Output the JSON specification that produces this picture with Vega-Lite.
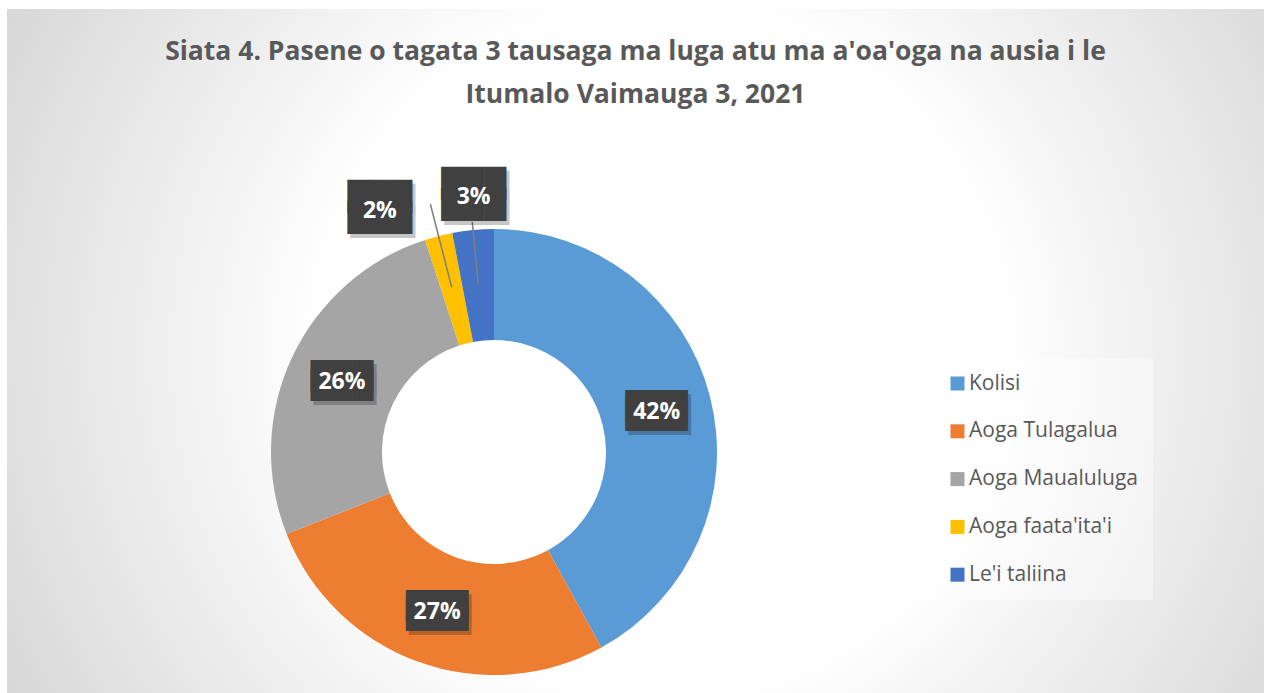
{
  "$schema": "https://vega.github.io/schema/vega-lite/v6.json",
  "width": 1257,
  "height": 684,
  "autosize": {"type": "none"},
  "padding": {"left": 7, "top": 9, "right": 0, "bottom": 0},
  "background": "#ffffff",
  "config": {"view": {"stroke": null}},
  "title": {
    "text": ["Siata 4. Pasene o tagata 3 tausaga ma luga atu ma a'oa'oga na ausia i le", "Itumalo Vaimauga 3, 2021"],
    "font": "Open Sans",
    "fontSize": 26.5,
    "fontWeight": "bold",
    "color": "#595959",
    "anchor": "middle",
    "baseline": "top",
    "lineHeight": 43,
    "offset": 0,
    "dy": 99
  },
  "data": {
    "values": [
      {"cat": "Kolisi", "value": 42, "order": 1},
      {"cat": "Aoga Tulagalua", "value": 27, "order": 2},
      {"cat": "Aoga Maualuluga", "value": 26, "order": 3},
      {"cat": "Aoga faata'ita'i", "value": 2, "order": 4},
      {"cat": "Le'i taliina", "value": 3, "order": 5}
    ]
  },
  "transform": [{"calculate": "datum.value + '%'", "as": "label"}],
  "layer": [
    {
      "data": {"values": [{"bg": 1}]},
      "mark": {
        "type": "rect",
        "color": {
          "gradient": "radial",
          "x1": 0.52, "y1": 0.5, "r1": 0,
          "x2": 0.52, "y2": 0.5, "r2": 0.75,
          "stops": [
            {"offset": 0, "color": "#ffffff"},
            {"offset": 0.36, "color": "#ffffff"},
            {"offset": 1, "color": "#c3c3c3"}
          ]
        }
      },
      "encoding": {}
    },
    {
      "mark": {"type": "arc", "outerRadius": 223, "innerRadius": 112, "x": 487, "y": 443},
      "encoding": {
        "theta": {"field": "value", "type": "quantitative", "stack": true},
        "order": {"field": "order", "type": "quantitative"},
        "color": {
          "field": "cat", "type": "nominal",
          "scale": {
            "domain": ["Kolisi", "Aoga Tulagalua", "Aoga Maualuluga", "Aoga faata'ita'i", "Le'i taliina"],
            "range": ["#5b9bd5", "#ed7d31", "#a5a5a5", "#ffc000", "#4472c4"]
          },
          "legend": {
            "title": null,
            "orient": "none",
            "legendX": 913,
            "legendY": 349,
            "fillColor": "rgba(255,255,255,0.4)",
            "padding": 15,
            "symbolOffset": 12,
            "symbolType": "square",
            "symbolSize": 196,
            "symbolStrokeWidth": 0,
            "labelFont": "Open Sans",
            "labelFontSize": 21,
            "labelColor": "#595959",
            "labelOffset": 1,
            "rowPadding": 25.8,
            "labelLimit": 400
          }
        }
      }
    },
    {
      "mark": {"type": "arc", "outerRadius": 256, "innerRadius": 170, "x": 487, "y": 443, "padAngle": 1.2, "fillOpacity": 0, "stroke": "#7f7f7f", "strokeWidth": 1.5},
      "encoding": {
        "theta": {"field": "value", "type": "quantitative", "stack": true},
        "order": {"field": "order", "type": "quantitative"},
        "detail": {"field": "cat"},
        "strokeOpacity": {"condition": {"test": "datum.order == 4", "value": 1}, "value": 0}
      }
    },
    {
      "mark": {"type": "arc", "outerRadius": 231, "innerRadius": 168, "x": 487, "y": 443, "padAngle": 1.2, "fillOpacity": 0, "stroke": "#7f7f7f", "strokeWidth": 1.5},
      "encoding": {
        "theta": {"field": "value", "type": "quantitative", "stack": true},
        "order": {"field": "order", "type": "quantitative"},
        "detail": {"field": "cat"},
        "strokeOpacity": {"condition": {"test": "datum.order == 5", "value": 1}, "value": 0}
      }
    },
    {
      "mark": {"type": "text", "text": ["███", "███"], "lineHeight": 9, "font": "DejaVu Sans", "fontSize": 27, "baseline": "middle", "align": "center", "color": "#000000", "x": 487, "y": 443, "dx": 3, "dy": 1},
      "encoding": {
        "theta": {"field": "value", "type": "quantitative", "stack": true},
        "order": {"field": "order", "type": "quantitative"},
        "detail": {"field": "cat"},
        "radius": {"value": 168},
        "opacity": {"condition": {"test": "datum.value >= 5", "value": 0.22}, "value": 0}
      }
    },
    {
      "mark": {"type": "text", "text": ["███", "███"], "lineHeight": 9, "font": "DejaVu Sans", "fontSize": 27, "baseline": "middle", "align": "center", "color": "#404040", "x": 487, "y": 443, "dy": -3},
      "encoding": {
        "theta": {"field": "value", "type": "quantitative", "stack": true},
        "order": {"field": "order", "type": "quantitative"},
        "detail": {"field": "cat"},
        "radius": {"value": 168},
        "opacity": {"condition": {"test": "datum.value >= 5", "value": 1}, "value": 0}
      }
    },
    {
      "mark": {"type": "text", "font": "Open Sans", "fontSize": 23, "fontWeight": "bold", "baseline": "middle", "align": "center", "color": "#ffffff", "x": 487, "y": 443, "dy": 2},
      "encoding": {
        "theta": {"field": "value", "type": "quantitative", "stack": true},
        "order": {"field": "order", "type": "quantitative"},
        "detail": {"field": "cat"},
        "radius": {"value": 168},
        "text": {"field": "label"},
        "opacity": {"condition": {"test": "datum.value >= 5", "value": 1}, "value": 0}
      }
    },
    {
      "mark": {"type": "text", "text": ["███", "███"], "lineHeight": 21, "font": "DejaVu Sans", "fontSize": 28, "baseline": "middle", "align": "center", "color": "#000000", "x": 487, "y": 443, "dx": -46, "dy": 4},
      "encoding": {
        "theta": {"field": "value", "type": "quantitative", "stack": true},
        "order": {"field": "order", "type": "quantitative"},
        "detail": {"field": "cat"},
        "radius": {"value": 262},
        "opacity": {"condition": {"test": "datum.order == 4", "value": 0.22}, "value": 0}
      }
    },
    {
      "mark": {"type": "text", "text": ["███", "███"], "lineHeight": 21, "font": "DejaVu Sans", "fontSize": 28, "baseline": "middle", "align": "center", "color": "#404040", "x": 487, "y": 443, "dx": -49, "dy": 0},
      "encoding": {
        "theta": {"field": "value", "type": "quantitative", "stack": true},
        "order": {"field": "order", "type": "quantitative"},
        "detail": {"field": "cat"},
        "radius": {"value": 262},
        "opacity": {"condition": {"test": "datum.order == 4", "value": 1}, "value": 0}
      }
    },
    {
      "mark": {"type": "text", "font": "Open Sans", "fontSize": 23, "fontWeight": "bold", "baseline": "middle", "align": "center", "color": "#ffffff", "x": 487, "y": 443, "dx": -49, "dy": 13},
      "encoding": {
        "theta": {"field": "value", "type": "quantitative", "stack": true},
        "order": {"field": "order", "type": "quantitative"},
        "detail": {"field": "cat"},
        "radius": {"value": 262},
        "text": {"field": "label"},
        "opacity": {"condition": {"test": "datum.order == 4", "value": 1}, "value": 0}
      }
    },
    {
      "mark": {"type": "text", "text": ["███", "███"], "lineHeight": 21, "font": "DejaVu Sans", "fontSize": 28, "baseline": "middle", "align": "center", "color": "#000000", "x": 487, "y": 443, "dx": 7, "dy": -5},
      "encoding": {
        "theta": {"field": "value", "type": "quantitative", "stack": true},
        "order": {"field": "order", "type": "quantitative"},
        "detail": {"field": "cat"},
        "radius": {"value": 259},
        "opacity": {"condition": {"test": "datum.order == 5", "value": 0.22}, "value": 0}
      }
    },
    {
      "mark": {"type": "text", "text": ["███", "███"], "lineHeight": 21, "font": "DejaVu Sans", "fontSize": 28, "baseline": "middle", "align": "center", "color": "#404040", "x": 487, "y": 443, "dx": 4, "dy": -9},
      "encoding": {
        "theta": {"field": "value", "type": "quantitative", "stack": true},
        "order": {"field": "order", "type": "quantitative"},
        "detail": {"field": "cat"},
        "radius": {"value": 259},
        "opacity": {"condition": {"test": "datum.order == 5", "value": 1}, "value": 0}
      }
    },
    {
      "mark": {"type": "text", "font": "Open Sans", "fontSize": 23, "fontWeight": "bold", "baseline": "middle", "align": "center", "color": "#ffffff", "x": 487, "y": 443, "dx": 4, "dy": 3},
      "encoding": {
        "theta": {"field": "value", "type": "quantitative", "stack": true},
        "order": {"field": "order", "type": "quantitative"},
        "detail": {"field": "cat"},
        "radius": {"value": 259},
        "text": {"field": "label"},
        "opacity": {"condition": {"test": "datum.order == 5", "value": 1}, "value": 0}
      }
    }
  ]
}
